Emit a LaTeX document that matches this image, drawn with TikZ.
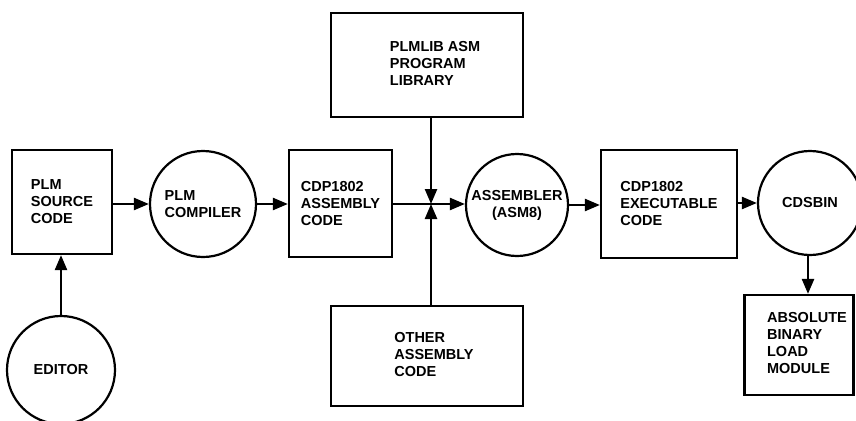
\documentclass[tikz,border=0pt]{standalone}
\usepackage{fontspec}
\setmainfont{Liberation Sans}
\usetikzlibrary{arrows.meta}
\newcommand{\shiftedtext}[2]{\kern#1pt\begin{tabular}{@{}l@{}}#2\end{tabular}}
\begin{document}
\begin{tikzpicture}[x=1pt,y=-1pt,
  every node/.style={font=\bfseries\fontsize{14.5}{17}\selectfont, align=left, line width=2.2pt, draw, inner sep=0pt},
  boxnode/.style={rectangle, minimum width=#1},
  circnode/.style={circle, minimum size=#1},
  arr/.style={line width=2.4pt, -{Triangle[length=15pt,width=12pt]}}]
\useasboundingbox (0,0) rectangle (856,420);
\node[boxnode=100, minimum height=104] (src) at (62,202) {PLM\\SOURCE\\CODE};
\node[circnode=106] (comp) at (203,204) {PLM\\COMPILER};
\node[circnode=108] (ed) at (61,370) {EDITOR};
\node[boxnode=103, minimum height=107] (asmcode) at (340.5,203.5) {CDP1802\\ASSEMBLY\\CODE};
\node[boxnode=192, minimum height=104] (lib) at (427,65) {\shiftedtext{16}{PLMLIB ASM\\PROGRAM\\LIBRARY}};
\node[boxnode=192, minimum height=100] (other) at (427,356) {\shiftedtext{14}{OTHER\\ASSEMBLY\\CODE}};
\node[circnode=102, align=center] (asm) at (517,205) {ASSEMBLER\\(ASM8)};
\node[boxnode=136, minimum height=108] (exec) at (669,204) {CDP1802\\EXECUTABLE\\CODE};
\node[circnode=104] (cds) at (810,203) {CDSBIN};
\node[boxnode=109, minimum height=100] (abs) at (799,345) {\shiftedtext{16}{ABSOLUTE\\BINARY\\LOAD\\MODULE}};
\coordinate (J) at (431,204);
\draw[arr] (src.east |- comp.west) -- (comp.west);
\draw[arr] (comp.east) -- (comp.east -| asmcode.west);
\draw[arr] (asmcode.east |- J) -- (asm.west |- J);
\draw[arr] (lib.south -| J) -- (J);
\draw[arr] (other.north -| J) -- (J);
\draw[arr] (asm.east) -- (asm.east -| exec.west);
\draw[arr] (exec.east |- cds.west) -- (cds.west);
\draw[arr] (cds.south -| 808,0) -- (808,0 |- abs.north);
\draw[arr] (ed.north) -- (ed.north |- src.south);
\end{tikzpicture}
\end{document}
